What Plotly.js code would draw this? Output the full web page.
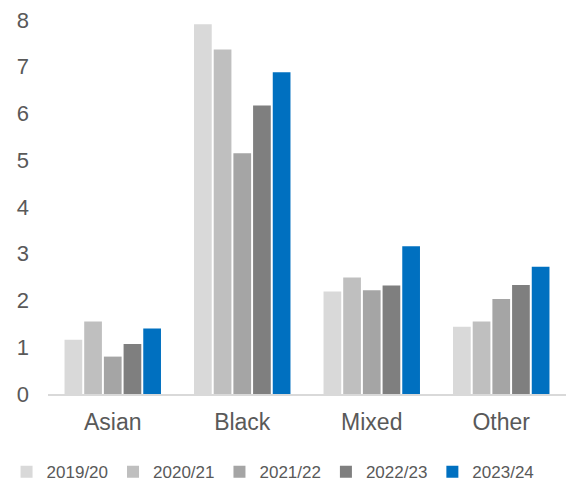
<!DOCTYPE html>
<html>
<head>
<meta charset="utf-8">
<script src="https://cdn.plot.ly/plotly-3.0.1.min.js"></script>
<style>html,body{margin:0;padding:0;background:#fff}#chart{width:566px;height:480px}</style>
</head>
<body>
<div id="chart"></div>
<script>
const categories = ["Asian", "Black", "Mixed", "Other"];
const years = ["2019/20", "2020/21", "2021/22", "2022/23", "2023/24"];
const v2019_20 = [1.16, 7.91, 2.19, 1.44];
const v2020_21 = [1.55, 7.37, 2.49, 1.55];
const v2021_22 = [0.80, 5.15, 2.22, 2.03];
const v2022_23 = [1.07, 6.17, 2.32, 2.33];
const v2023_24 = [1.40, 6.88, 3.16, 2.72];
const colors = ["#D9D9D9", "#BFBFBF", "#A5A5A5", "#7F7F7F", "#0070C0"];
const series = [v2019_20, v2020_21, v2021_22, v2022_23, v2023_24];

const traces = series.map((vals, i) => ({
  type: "bar",
  name: years[i],
  x: categories,
  y: vals,
  marker: {color: colors[i]},
  hoverinfo: "skip"
}));

const layout = {
  width: 566, height: 480,
  margin: {l: 48, r: 0, t: 20, b: 86, autoexpand: false},
  paper_bgcolor: "#fff", plot_bgcolor: "#fff",
  font: {family: "Liberation Sans, Arial, sans-serif", color: "#595959"},
  barmode: "group",
  bargap: 0.24,
  bargroupgap: 0.1,
  xaxis: {
    showline: true, linecolor: "#D9D9D9", linewidth: 2,
    tickfont: {size: 23, color: "#595959"},
    ticks: "", ticklabelstandoff: 6,
    showgrid: false, zeroline: false
  },
  yaxis: {
    range: [0, 8], dtick: 1, showgrid: false, zeroline: false, showline: false,
    tickfont: {size: 22, color: "#595959"},
    ticks: "", ticklabelstandoff: 18
  },
  legend: {
    orientation: "h", xref: "paper", yref: "paper",
    x: -0.08, xanchor: "left", y: -0.209, yanchor: "middle",
    font: {size: 17, color: "#595959"},
    itemwidth: 30, tracegroupgap: 0, maxheight: 60
  },
  showlegend: true
};

Plotly.newPlot("chart", traces, layout, {displayModeBar: false, staticPlot: true});
</script>
</body>
</html>
